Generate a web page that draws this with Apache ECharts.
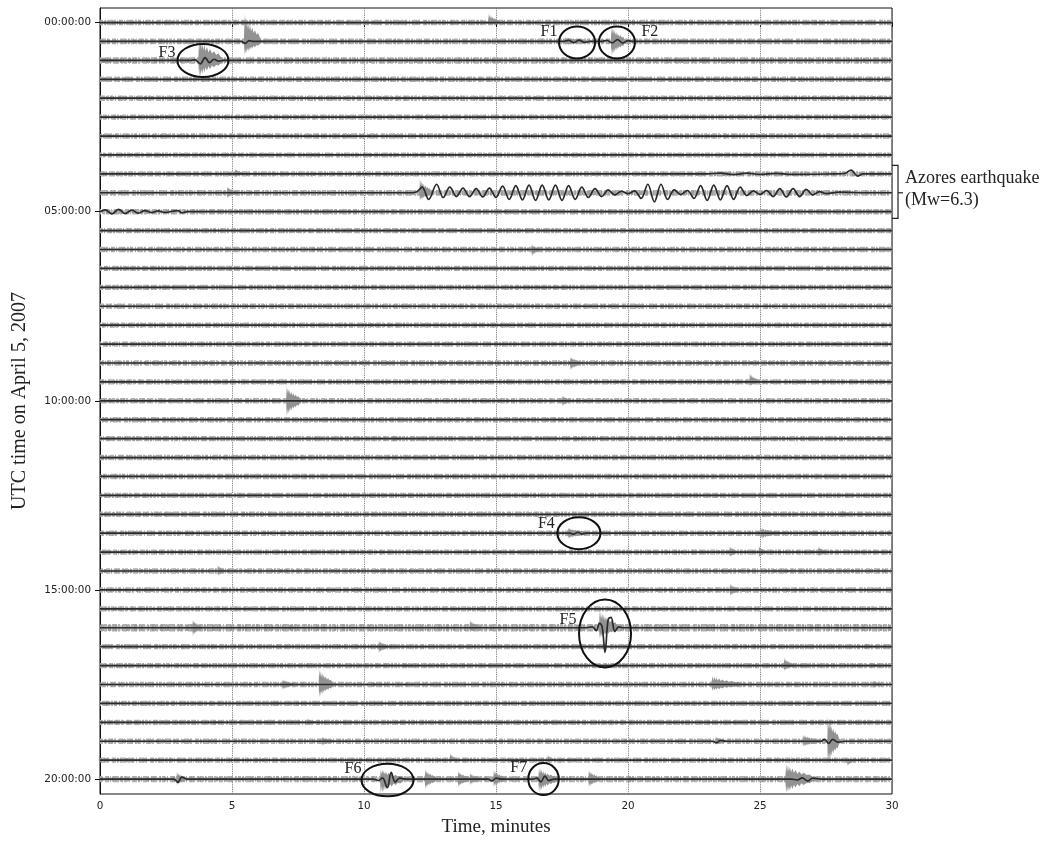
<!DOCTYPE html>
<html><head><meta charset="utf-8">
<script src="https://cdn.jsdelivr.net/npm/echarts@6/dist/echarts.min.js"></script>
<style>html,body{margin:0;padding:0;background:#fff}#c{width:1050px;height:842px}</style>
</head><body><div id="c"></div>
<script>
// ---------- data ----------
const timeTickInterval = 5;
const rowTickValues = [0, 10, 20, 30, 40];
const rowTickLabels = ['00:00:00', '05:00:00', '10:00:00', '15:00:00', '20:00:00'];
const rowCount = 41; // one trace every 30 minutes

// background noise half-amplitude per trace (row units)
const noiseLevel = [
  0.10, 0.11, 0.13, 0.10, 0.10, 0.10, 0.10, 0.09, 0.10, 0.11,
  0.10, 0.10, 0.10, 0.10, 0.10, 0.10, 0.10, 0.10, 0.10, 0.10,
  0.10, 0.10, 0.10, 0.10, 0.10, 0.10, 0.10, 0.10, 0.10, 0.10,
  0.10, 0.10, 0.16, 0.10, 0.10, 0.10, 0.10, 0.10, 0.10, 0.10,
  0.12
];

// gray high-frequency bursts: [row, onset minute, up amplitude, down amplitude, duration minutes]
const bursts = [
  [0, 14.7, 0.5, 0.15, 0.5],
  [1, 5.45, 1.5, 0.75, 0.7], [1, 17.6, 0.25, 0.2, 1.0], [1, 19.35, 0.85, 0.8, 0.6], [1, 23.8, 0.2, 0.15, 0.3],
  [2, 3.72, 1.2, 0.9, 1.0], [2, 22.8, 0.2, 0.2, 0.3], [2, 0.1, 0.15, 0.15, 0.7],
  [3, 19.4, 0.2, 0.2, 0.3], [3, 10.6, 0.15, 0.12, 0.3],
  [8, 5.1, 0.3, 0.2, 0.4], [8, 29.2, 0.15, 0.15, 0.3],
  [9, 4.8, 0.35, 0.3, 0.5], [9, 12.1, 0.8, 0.45, 0.5],
  [12, 16.35, 0.3, 0.4, 0.3],
  [13, 24.8, 0.2, 0.2, 0.3],
  [17, 27.3, 0.2, 0.15, 0.3],
  [18, 17.8, 0.35, 0.4, 0.5],
  [19, 24.6, 0.5, 0.25, 0.4], [19, 15.4, 0.2, 0.15, 0.3],
  [20, 7.05, 0.8, 0.85, 0.6], [20, 17.5, 0.3, 0.3, 0.4],
  [22, 11.1, 0.2, 0.2, 0.3], [22, 18.0, 0.15, 0.2, 0.3],
  [26, 28.1, 0.25, 0.2, 0.3],
  [27, 17.7, 0.3, 0.3, 0.9], [27, 25.0, 0.3, 0.3, 0.9], [27, 27.0, 0.2, 0.15, 0.3],
  [28, 16.2, 0.2, 0.2, 0.3], [28, 23.85, 0.35, 0.3, 0.3], [28, 24.95, 0.35, 0.3, 0.3], [28, 27.2, 0.3, 0.25, 0.4],
  [29, 4.45, 0.35, 0.3, 0.3], [29, 18.2, 0.15, 0.15, 0.3], [29, 25.9, 0.15, 0.15, 0.3],
  [30, 23.85, 0.35, 0.35, 0.4], [30, 13.0, 0.15, 0.1, 0.3],
  [32, 3.5, 0.45, 0.45, 0.4], [32, 7.15, 0.2, 0.15, 0.3], [32, 14.0, 0.45, 0.25, 0.4], [32, 18.9, 0.95, 0.6, 0.8],
  [33, 10.55, 0.35, 0.35, 0.4], [33, 4.2, 0.15, 0.15, 0.3], [33, 29.0, 0.2, 0.15, 0.3],
  [34, 25.9, 0.45, 0.3, 0.4], [34, 11.5, 0.15, 0.15, 0.3], [34, 17.2, 0.15, 0.15, 0.3], [34, 29.2, 0.2, 0.15, 0.3],
  [35, 6.9, 0.3, 0.3, 0.5], [35, 8.28, 0.85, 0.7, 0.6], [35, 10.3, 0.15, 0.15, 0.3], [35, 23.15, 0.45, 0.35, 1.3], [35, 29.3, 0.25, 0.2, 0.3],
  [36, 6.55, 0.2, 0.2, 0.3], [36, 25.9, 0.15, 0.15, 0.3],
  [37, 7.85, 0.2, 0.15, 0.4], [37, 4.3, 0.12, 0.12, 0.3],
  [38, 8.4, 0.25, 0.25, 0.5], [38, 23.3, 0.25, 0.2, 0.5], [38, 26.6, 0.35, 0.3, 0.8], [38, 27.55, 1.35, 1.3, 0.5], [38, 29.4, 0.15, 0.15, 0.3],
  [39, 13.25, 0.4, 0.1, 0.3], [39, 16.95, 0.3, 0.1, 0.3], [39, 28.3, 0.05, 0.35, 0.3],
  [40, 2.9, 0.4, 0.35, 0.4], [40, 4.5, 0.15, 0.1, 0.3], [40, 10.6, 0.55, 0.8, 1.0], [40, 12.3, 0.55, 0.55, 0.5],
  [40, 13.55, 0.45, 0.45, 0.5], [40, 14.0, 0.35, 0.35, 0.4], [40, 14.9, 0.5, 0.45, 0.5], [40, 16.6, 0.6, 0.7, 0.8],
  [40, 18.5, 0.5, 0.45, 0.5], [40, 20.0, 0.25, 0.25, 0.3], [40, 20.9, 0.2, 0.2, 0.3], [40, 21.8, 0.15, 0.15, 0.3],
  [40, 25.95, 0.8, 0.75, 1.2], [40, 26.6, 0.4, 0.4, 0.6], [40, 29.6, 0.2, 0.2, 0.3]
];

// long-period (black) waveforms: [minute, upward displacement in row units]
const azoresWave = [
  [11.8, 0], [12.0, 0.05], [12.2, 0.3], [12.45, -0.35], [12.75, 0.45], [13.0, -0.25], [13.25, 0.3], [13.5, -0.2],
  [13.75, 0.25], [14.0, -0.2], [14.25, 0.22], [14.5, -0.22], [14.75, 0.25], [15.0, -0.25], [15.25, 0.35], [15.5, -0.35],
  [15.75, 0.38], [16.0, -0.38], [16.25, 0.4], [16.5, -0.4], [16.75, 0.4], [17.0, -0.38], [17.25, 0.4], [17.5, -0.4],
  [17.75, 0.38], [18.0, -0.35], [18.25, 0.3], [18.5, -0.25], [18.75, 0.22], [19.0, -0.2], [19.25, 0.15], [19.5, -0.12],
  [19.75, 0.08], [20.0, -0.05], [20.25, 0.1], [20.5, -0.3], [20.75, 0.45], [21.0, -0.48], [21.25, 0.45], [21.5, -0.35],
  [21.75, 0.15], [22.0, -0.1], [22.25, 0.12], [22.5, -0.3], [22.75, 0.38], [23.0, -0.4], [23.25, 0.4], [23.5, -0.38],
  [23.75, 0.38], [24.0, -0.35], [24.25, 0.3], [24.5, -0.15], [24.75, 0.1], [25.0, -0.08], [25.25, 0.12], [25.5, -0.2],
  [25.75, 0.22], [26.0, -0.22], [26.25, 0.22], [26.5, -0.2], [26.75, 0.18], [27.0, -0.12], [27.25, 0.06], [27.5, -0.04],
  [28.0, 0.03], [29.0, 0]
];
const row8Wave = [[23.0, 0], [23.5, 0.04], [24.0, -0.04], [24.5, 0.04], [25.0, -0.03], [25.6, 0.03], [26.2, -0.03], [27.8, 0], [28.2, 0.02], [28.45, 0.2], [28.7, -0.12], [28.9, 0]];
const row10Wave = [[0.0, 0], [0.2, 0.1], [0.45, -0.12], [0.7, 0.12], [0.95, -0.1], [1.2, 0.08], [1.45, -0.08], [1.7, 0.06], [1.95, -0.05], [2.2, 0.04], [2.45, -0.04], [2.95, 0.06], [3.1, -0.06], [3.3, 0]];
const row1Spike = [[5.35, 0], [5.5, -0.1], [5.65, 0.05], [5.8, 0]];
const f1Wave = [[17.55, 0], [17.75, 0.06], [17.95, -0.06], [18.15, 0.07], [18.35, -0.05], [18.55, 0]];
const f2Wave = [[19.0, 0], [19.2, 0.06], [19.4, -0.08], [19.6, 0.1], [19.8, -0.08], [20.0, 0.04], [20.2, 0]];
const f3Wave = [[3.4, 0], [3.6, 0.03], [3.8, -0.18], [3.98, 0.15], [4.15, -0.12], [4.32, 0.06], [4.5, -0.04], [4.7, 0]];
const f4Wave = [[17.8, 0], [17.95, -0.05], [18.1, 0.05], [18.25, -0.04], [18.4, 0]];
const f5Wave = [[18.4, 0], [18.65, 0.05], [18.8, -0.15], [18.92, 0.25], [19.02, 0.05], [19.13, -1.3], [19.25, 0.45], [19.36, 0.55], [19.5, -0.2], [19.65, 0.05], [19.8, 0]];
const row38WaveA = [[23.2, 0], [23.35, -0.08], [23.5, 0.04], [23.7, 0]];
const row38WaveB = [[27.3, 0], [27.45, 0.1], [27.6, -0.12], [27.75, 0.1], [27.95, -0.05], [28.2, 0]];
const row40WaveA = [[2.8, 0], [2.95, -0.18], [3.1, 0.1], [3.3, 0]];
const f6Wave = [[10.35, 0], [10.55, -0.08], [10.7, 0.06], [10.88, -0.45], [11.03, 0.35], [11.18, -0.15], [11.35, 0.05], [11.6, 0]];
const row40WaveB = [[14.7, 0], [14.85, -0.1], [15.0, 0.05], [15.2, 0]];
const f7Wave = [[16.4, 0], [16.55, 0.05], [16.7, -0.15], [16.85, 0.15], [17.0, -0.08], [17.2, 0]];
const row40WaveC = [[26.2, 0], [26.4, -0.05], [26.6, 0.06], [26.8, -0.1], [27.0, 0.05], [27.3, 0]];

const wiggles = [
  [1, row1Spike], [1, f1Wave], [1, f2Wave], [2, f3Wave], [8, row8Wave], [9, azoresWave], [10, row10Wave],
  [27, f4Wave], [32, f5Wave], [38, row38WaveA], [38, row38WaveB], [40, row40WaveA], [40, f6Wave],
  [40, row40WaveB], [40, f7Wave], [40, row40WaveC]
];

// marked events: [label, minute, row]
const eventMarks = [
  ['F1', 18.07, 1.05], ['F2', 19.58, 1.05], ['F3', 3.9, 2.0], ['F4', 18.14, 27.0],
  ['F5', 19.13, 32.3], ['F6', 10.89, 40.05], ['F7', 16.8, 40.0]
];
const azoresLabel = ['Azores earthquake', '(Mw=6.3)'];
const azoresRows = [7.55, 9, 10.35];

// ---------- styles ----------
const eventStyle = {
  F1: {rx: 18, ry: 16, dx: -28, dy: -10.5},
  F2: {rx: 18, ry: 16, dx: 33, dy: -10.5},
  F3: {rx: 25.5, ry: 16.5, dx: -36, dy: -8},
  F4: {rx: 21.5, ry: 16, dx: -32.5, dy: -9.5},
  F5: {rx: 26, ry: 34, dx: -37, dy: -13.5},
  F6: {rx: 26, ry: 16.3, dx: -34.5, dy: -11},
  F7: {rx: 15.3, ry: 16, dx: -24.7, dy: -11}
};
// jagged envelope shape used to draw every burst (fraction of duration, fraction of amplitude)
const burstProfile = [[0, 0], [0.02, 0.5], [0.04, 1], [0.06, 0.45], [0.09, 0.9], [0.12, 0.5], [0.15, 0.8], [0.19, 0.45],
  [0.23, 0.7], [0.28, 0.4], [0.33, 0.6], [0.39, 0.35], [0.45, 0.5], [0.52, 0.3], [0.6, 0.4], [0.68, 0.25],
  [0.77, 0.3], [0.86, 0.15], [1, 0]];
const noiseDashA = [3, 2, 1, 2, 5, 1, 2, 3, 4, 1, 1, 2, 6, 2, 2, 1];
const noiseDashB = [1, 3, 2, 1, 1, 4, 3, 2, 1, 1, 2, 5];
const SERIF = '"Liberation Serif", "DejaVu Serif", serif';
const SANS = '"DejaVu Sans", sans-serif';
const GRAY = '#929292';
const TRACE = '#2a2a2a';

// ---------- build ----------
const series = [];

series.push({
  type: 'custom', z: 1, silent: true, animation: false,
  data: noiseLevel.map((n, r) => [r, n]),
  renderItem: function (params, api) {
    const r = api.value(0), n = api.value(1);
    const a = api.coord([0, r]), b = api.coord([30, r]);
    const pxRow = api.coord([0, r + 1])[1] - a[1];
    const w = 2 * n * pxRow;
    return {
      type: 'group',
      children: [
        {type: 'line', shape: {x1: a[0], y1: a[1], x2: b[0], y2: b[1]}, style: {stroke: '#cacaca', lineWidth: w * 0.85}},
        {type: 'line', shape: {x1: a[0], y1: a[1], x2: b[0], y2: b[1]}, style: {stroke: '#b0b0b0', lineWidth: w + 1.6, lineDash: noiseDashA, lineDashOffset: r * 7}},
        {type: 'line', shape: {x1: a[0], y1: a[1], x2: b[0], y2: b[1]}, style: {stroke: '#9c9c9c', lineWidth: w + 0.4, lineDash: noiseDashB, lineDashOffset: r * 5}}
      ]
    };
  }
});

series.push({
  type: 'custom', z: 2, silent: true, animation: false,
  data: bursts,
  renderItem: function (params, api) {
    const r = api.value(0), t0 = api.value(1), up = api.value(2), dn = api.value(3), dur = api.value(4);
    const top = [], bot = [];
    burstProfile.forEach(function (p) {
      const t = Math.min(30, t0 + p[0] * dur);
      top.push(api.coord([t, r - up * p[1]]));
      bot.push(api.coord([t, r + dn * p[1]]));
    });
    return {type: 'polygon', shape: {points: top.concat(bot.reverse())}, style: {fill: GRAY}};
  }
});

for (let r = 0; r < rowCount; r++) {
  const pts = [];
  wiggles.filter(w => w[0] === r).forEach(w => w[1].forEach(p => pts.push(p)));
  pts.sort((a, b) => a[0] - b[0]);
  const data = [];
  if (!pts.length || pts[0][0] > 0) data.push([0, r]);
  pts.forEach(p => data.push([p[0], r - p[1]]));
  if (!pts.length || pts[pts.length - 1][0] < 30) data.push([30, r]);
  series.push({
    type: 'line', z: 3, silent: true, animation: false, symbol: 'none',
    smooth: 0.35, data: data,
    lineStyle: {color: TRACE, width: 1.7}
  });
}

series.push({
  type: 'custom', z: 5, silent: true, animation: false,
  data: eventMarks.map(e => [e[1], e[2]]),
  renderItem: function (params, api) {
    const name = eventMarks[params.dataIndex][0];
    const st = eventStyle[name];
    const c = api.coord([api.value(0), api.value(1)]);
    return {
      type: 'group',
      children: [
        {type: 'ellipse', shape: {cx: c[0], cy: c[1], rx: st.rx, ry: st.ry}, style: {fill: 'none', stroke: '#111', lineWidth: 2}},
        {type: 'text', style: {text: name, x: c[0] + st.dx, y: c[1] + st.dy, fill: '#222', font: '16px ' + SERIF, textAlign: 'center', textVerticalAlign: 'middle'}}
      ]
    };
  }
});

series.push({
  type: 'custom', z: 5, silent: true, animation: false, clip: false,
  data: [[30, azoresRows[1]]],
  renderItem: function (params, api) {
    const p = api.coord([30, azoresRows[0]]), m = api.coord([30, azoresRows[1]]), q = api.coord([30, azoresRows[2]]);
    const bx = p[0] + 6;
    return {
      type: 'group',
      children: [
        {type: 'polyline', shape: {points: [[p[0], p[1]], [bx, p[1]], [bx, q[1]], [p[0], q[1]]]}, style: {stroke: '#222', lineWidth: 1.2, fill: 'none'}},
        {type: 'line', shape: {x1: bx, y1: m[1], x2: bx + 5, y2: m[1]}, style: {stroke: '#222', lineWidth: 1.2}},
        {type: 'text', style: {text: azoresLabel[0], x: bx + 7, y: m[1] - 15, fill: '#222', font: '18px ' + SERIF, textAlign: 'left', textVerticalAlign: 'middle'}},
        {type: 'text', style: {text: azoresLabel[1], x: bx + 7, y: m[1] + 7, fill: '#222', font: '18px ' + SERIF, textAlign: 'left', textVerticalAlign: 'middle'}}
      ]
    };
  }
});

const chart = echarts.init(document.getElementById('c'), null, {renderer: 'canvas'});
chart.setOption({
  animation: false,
  backgroundColor: '#fff',
  grid: {left: 100, right: 158, top: 8, bottom: 45, show: true, borderColor: '#111', borderWidth: 1, backgroundColor: 'transparent'},
  xAxis: {
    type: 'value', min: 0, max: 30, interval: timeTickInterval,
    name: 'Time, minutes', nameLocation: 'middle', nameGap: 24,
    nameTextStyle: {fontFamily: SERIF, fontSize: 19, color: '#222'},
    axisLine: {show: true, lineStyle: {color: '#111', width: 1}},
    axisTick: {show: true, length: 4.5, lineStyle: {color: '#111'}},
    axisLabel: {fontFamily: SANS, fontSize: 10.4, color: '#222', margin: 7},
    splitLine: {show: true, lineStyle: {color: '#666', type: 'dotted', width: 0.9}}
  },
  yAxis: {
    type: 'value', inverse: true, min: -0.77, max: 40.79,
    name: 'UTC time on April 5, 2007', nameLocation: 'middle', nameGap: 70, nameRotate: 90,
    nameTextStyle: {fontFamily: SERIF, fontSize: 20, color: '#222'},
    axisLine: {show: true, lineStyle: {color: '#111', width: 1}},
    axisTick: {show: true, length: 5, customValues: rowTickValues, lineStyle: {color: '#111'}},
    axisLabel: {
      customValues: rowTickValues, fontFamily: SANS, fontSize: 10.4, color: '#222', margin: 9,
      formatter: function (v) { const i = rowTickValues.indexOf(Math.round(v)); return i >= 0 ? rowTickLabels[i] : ''; }
    },
    splitLine: {show: false}
  },
  series: series
});
</script>
</body></html>
